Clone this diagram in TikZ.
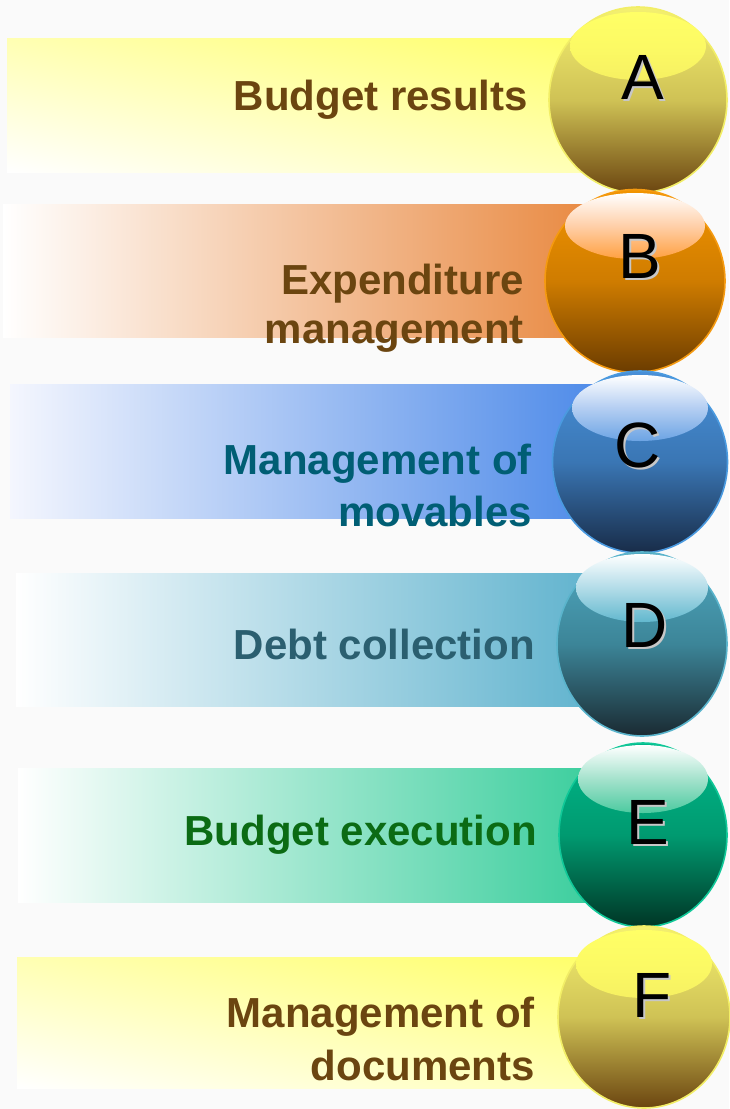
\documentclass[tikz,border=0pt]{standalone}
\usepackage{fontspec}
\setmainfont{Liberation Sans}
\usetikzlibrary{shapes.geometric,calc}
\definecolor{bgcol}{HTML}{FAFAFA}
\definecolor{bandB}{HTML}{E8863C}
\definecolor{bandCl}{HTML}{F4F6FE}
\definecolor{bandC}{HTML}{4A88E8}
\definecolor{bandD}{HTML}{5AB0CC}
\definecolor{bandE}{HTML}{33CC99}
\definecolor{txtBrown}{HTML}{6B4510}
\definecolor{txtC}{HTML}{005E74}
\definecolor{txtD}{HTML}{2B5F70}
\definecolor{txtE}{HTML}{0B6B14}
% ball colours: top, middle, bottom, rim, highlight top/middle/bottom
\definecolor{yTop}{HTML}{F4F070}\definecolor{yMid}{HTML}{CFC255}\definecolor{yBot}{HTML}{6B4510}
\definecolor{yRim}{HTML}{F2EE66}\definecolor{yHlT}{HTML}{FFFF66}\definecolor{yHlM}{HTML}{FCFA64}\definecolor{yHlB}{HTML}{F6F062}
\definecolor{oTop}{HTML}{F29400}\definecolor{oMid}{HTML}{CF7C00}\definecolor{oBot}{HTML}{6B3C00}
\definecolor{oRim}{HTML}{F59A10}\definecolor{oHlM}{HTML}{FFCFA8}\definecolor{oHlB}{HTML}{FFA040}
\definecolor{cTop}{HTML}{4890D8}\definecolor{cMid}{HTML}{3A76B4}\definecolor{cBot}{HTML}{182C48}
\definecolor{cRim}{HTML}{4A9AE0}\definecolor{cHlM}{HTML}{B4CEF2}\definecolor{cHlB}{HTML}{6CA4E4}
\definecolor{dTop}{HTML}{50A8C0}\definecolor{dMid}{HTML}{3C8598}\definecolor{dBot}{HTML}{1A2A32}
\definecolor{dRim}{HTML}{5AB4CC}\definecolor{dHlM}{HTML}{B2DCE8}\definecolor{dHlB}{HTML}{62B8CE}
\definecolor{eTop}{HTML}{00B88A}\definecolor{eMid}{HTML}{009A70}\definecolor{eBot}{HTML}{003525}
\definecolor{eRim}{HTML}{10C898}\definecolor{eHlM}{HTML}{A4E2CC}\definecolor{eHlB}{HTML}{4CCAA0}
% diagonal white -> yellow (FFFF66) shading: white at bottom-left corner, yellow at top-right corner
\pgfdeclarefunctionalshading{yellowdiag}{\pgfpoint{0bp}{0bp}}{\pgfpoint{100bp}{100bp}}{}{
  25 sub 50 div exch 25 sub 50 div add 2 div
  dup 0 lt {pop 0} if dup 1 gt {pop 1} if
  0.6 mul 1 exch sub
  1 1 3 -1 roll
}
\newcommand{\shadowletter}[1]{\rlap{\kern2pt\raisebox{-2pt}{\color{black!22}#1}}#1}
\begin{document}
\begin{tikzpicture}[x=1pt,y=-1pt,
  ball/.style={ellipse, inner sep=0pt, line width=1.6pt},
  lbl/.style={anchor=base east, inner sep=0pt, font=\bfseries\fontsize{42}{52}\selectfont},
  letter/.style={inner sep=0pt, font=\fontsize{64}{64}\selectfont, text=black}]
\useasboundingbox (0,0) rectangle (729,1109);
\fill[bgcol] (0,0) rectangle (729,1109);
% bands
\shade[shading=yellowdiag] (7,38) rectangle (613,172);
\shade[left color=white, right color=bandB] (3,204) rectangle (610,337);
\shade[left color=bandCl, right color=bandC] (10,384) rectangle (615,518);
\shade[left color=white, right color=bandD] (16,573) rectangle (617,706);
\shade[left color=white, right color=bandE] (18,768) rectangle (618,902);
\shade[shading=yellowdiag] (17,957) rectangle (619,1088);
% balls
\node[ball, minimum width=178pt, minimum height=186pt, draw=yRim, top color=yTop, bottom color=yBot, middle color=yMid] (A) at (638,100) {};
\shade[top color=yHlT, bottom color=yHlB, middle color=yHlM] ($(A)+(0,-54)$) ellipse [x radius=68pt, y radius=34pt];
\node[letter] (LA) at ($(A)+(5,-22)$) {\shadowletter{A}};

\node[ball, minimum width=180pt, minimum height=183pt, draw=oRim, top color=oTop, bottom color=oBot, middle color=oMid] (B) at (635,281) {};
\shade[top color=white, bottom color=oHlB, middle color=oHlM] ($(B)+(0,-55)$) ellipse [x radius=70pt, y radius=33pt];
\node[letter] (LB) at ($(B)+(5,-24)$) {\shadowletter{B}};

\node[ball, minimum width=175pt, minimum height=182pt, draw=cRim, top color=cTop, bottom color=cBot, middle color=cMid] (C) at (640,462) {};
\shade[top color=white, bottom color=cHlB, middle color=cHlM] ($(C)+(0,-54)$) ellipse [x radius=68pt, y radius=33pt];
\node[letter] (LC) at ($(C)+(-2,-16)$) {\shadowletter{C}};

\node[ball, minimum width=170pt, minimum height=184pt, draw=dRim, top color=dTop, bottom color=dBot, middle color=dMid] (D) at (642,644) {};
\shade[top color=white, bottom color=dHlB, middle color=dHlM] ($(D)+(0,-56)$) ellipse [x radius=66pt, y radius=34pt];
\node[letter] (LD) at ($(D)+(3,-18)$) {\shadowletter{D}};

\node[ball, minimum width=168pt, minimum height=184pt, draw=eRim, top color=eTop, bottom color=eBot, middle color=eMid] (E) at (643,835) {};
\shade[top color=white, bottom color=eHlB, middle color=eHlM] ($(E)+(0,-56)$) ellipse [x radius=65pt, y radius=34pt];
\node[letter] (LE) at ($(E)+(5,-12)$) {\shadowletter{E}};

\node[ball, minimum width=172pt, minimum height=182pt, draw=yRim, top color=yTop, bottom color=yBot, middle color=yMid] (F) at (644,1017) {};
\shade[top color=yHlT, bottom color=yHlB, middle color=yHlM] ($(F)+(0,-53)$) ellipse [x radius=68pt, y radius=34pt];
\node[letter] (LF) at ($(F)+(8,-21)$) {\shadowletter{F}};
% labels
\node[lbl, text=txtBrown] (TA) at (528,110) {Budget results};
\node[lbl, text=txtBrown] (TB1) at (524,294) {Expenditure};
\node[lbl, text=txtBrown] (TB2) at (524,343) {management};
\node[lbl, text=txtC] (TC1) at (532,474) {Management of};
\node[lbl, text=txtC] (TC2) at (532,526) {movables};
\node[lbl, text=txtD] (TD) at (535,659) {Debt collection};
\node[lbl, text=txtE] (TE) at (537,845) {Budget execution};
\node[lbl, text=txtBrown] (TF1) at (535,1027) {Management of};
\node[lbl, text=txtBrown] (TF2) at (535,1080) {documents};
\end{tikzpicture}
\end{document}
